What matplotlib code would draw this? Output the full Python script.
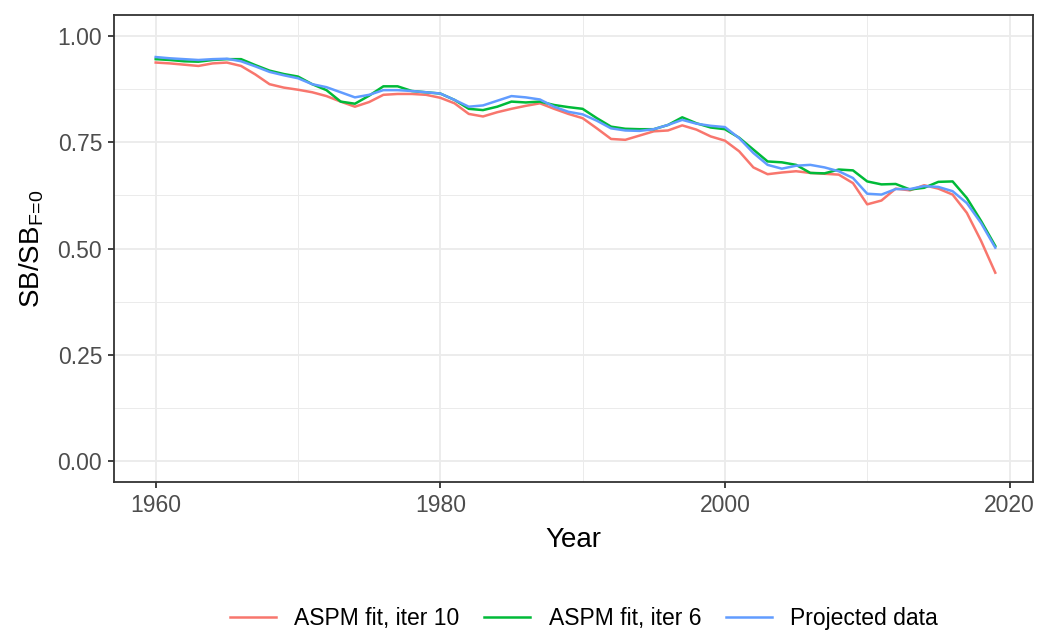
import numpy as np
import matplotlib
matplotlib.use("Agg")
import matplotlib.pyplot as plt
from matplotlib.ticker import MultipleLocator

plt.rcParams['font.family'] = ['Liberation Sans', 'DejaVu Sans']
plt.rcParams['mathtext.fontset'] = 'custom'
plt.rcParams['mathtext.rm'] = 'Liberation Sans'
plt.rcParams['mathtext.it'] = 'Liberation Sans:italic'

years = np.arange(1960, 2020)

# ASPM fit, iter 10
iter10 = [0.938, 0.936, 0.933, 0.930, 0.936, 0.938, 0.930, 0.910, 0.887, 0.879,
          0.874, 0.868, 0.859, 0.846, 0.834, 0.845, 0.862, 0.864, 0.864, 0.862,
          0.855, 0.842, 0.817, 0.811, 0.821, 0.829, 0.836, 0.842, 0.829, 0.817,
          0.807, 0.783, 0.758, 0.756, 0.766, 0.776, 0.778, 0.790, 0.780, 0.764,
          0.754, 0.729, 0.691, 0.675, 0.679, 0.682, 0.678, 0.676, 0.674, 0.654,
          0.604, 0.613, 0.641, 0.637, 0.649, 0.641, 0.627, 0.584, 0.518, 0.443]

# ASPM fit, iter 6
iter6 = [0.946, 0.944, 0.941, 0.940, 0.944, 0.946, 0.946, 0.932, 0.919, 0.911,
         0.905, 0.887, 0.873, 0.846, 0.841, 0.860, 0.882, 0.882, 0.871, 0.868,
         0.865, 0.850, 0.829, 0.826, 0.834, 0.846, 0.844, 0.846, 0.838, 0.833,
         0.829, 0.807, 0.787, 0.782, 0.781, 0.781, 0.791, 0.809, 0.795, 0.785,
         0.781, 0.761, 0.733, 0.705, 0.703, 0.697, 0.678, 0.677, 0.686, 0.684,
         0.658, 0.651, 0.652, 0.639, 0.643, 0.657, 0.658, 0.619, 0.565, 0.506]

# Projected data
projected = [0.951, 0.948, 0.946, 0.944, 0.946, 0.947, 0.941, 0.929, 0.916, 0.908,
             0.901, 0.887, 0.880, 0.868, 0.856, 0.862, 0.873, 0.873, 0.871, 0.868,
             0.865, 0.850, 0.834, 0.837, 0.848, 0.859, 0.856, 0.851, 0.834, 0.822,
             0.816, 0.801, 0.783, 0.778, 0.777, 0.781, 0.791, 0.803, 0.794, 0.789,
             0.786, 0.760, 0.725, 0.697, 0.688, 0.695, 0.697, 0.691, 0.682, 0.666,
             0.629, 0.627, 0.640, 0.640, 0.647, 0.645, 0.635, 0.607, 0.560, 0.502]

series = [("ASPM fit, iter 10", iter10, "#F8766D"),
          ("ASPM fit, iter 6", iter6, "#00BA38"),
          ("Projected data", projected, "#619CFF")]

fig = plt.figure(figsize=(10.37, 6.33), dpi=100)
ax = fig.add_axes([114/1037, 1 - 482/633, (1033 - 114)/1037, (482 - 15)/633])

for name, vals, col in series:
    ax.plot(years, vals, color=col, lw=1.8, label=name)

ax.set_xlim(1957.07, 2021.65)
ax.set_ylim(-0.05, 1.05)
ax.xaxis.set_major_locator(MultipleLocator(20))
ax.xaxis.set_minor_locator(MultipleLocator(10))
ax.yaxis.set_major_locator(MultipleLocator(0.25))
ax.yaxis.set_minor_locator(MultipleLocator(0.125))
ax.yaxis.set_major_formatter(plt.FuncFormatter(lambda v, p: f"{v:.2f}"))

ax.grid(which='major', color='#EBEBEB', lw=1.3)
ax.grid(which='minor', color='#EBEBEB', lw=0.7)
ax.set_axisbelow(True)
for s in ax.spines.values():
    s.set_color('#333333')
    s.set_linewidth(1.3)
ax.tick_params(which='major', length=4.5, width=1.3, color='#333333',
               labelcolor='#4D4D4D', labelsize=16.5, pad=4)
ax.tick_params(which='minor', length=0)

ax.set_xlabel("Year", fontsize=20, labelpad=7)
ax.set_ylabel(r"SB/SB$_{\mathrm{F\!=\!0}}$", fontsize=20, labelpad=8)

handles, labels = ax.get_legend_handles_labels()
fig.legend(handles, labels, loc='center', ncol=3, frameon=False,
           bbox_to_anchor=(584/1037, 1 - 619/633), fontsize=16.5,
           handlelength=2.0, handletextpad=0.8, columnspacing=1.1)

fig.savefig("out.png", dpi=100)
